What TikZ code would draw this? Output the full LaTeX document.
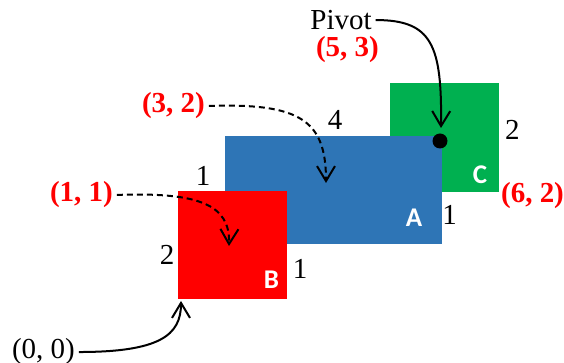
\documentclass[tikz,border=0pt]{standalone}
\usepackage{fontspec}
\setmainfont{Liberation Serif}
\newfontfamily\labfont{Carlito}
\usetikzlibrary{arrows.meta}
\definecolor{cred}{HTML}{FF0000}
\definecolor{cblue}{HTML}{2E75B6}
\definecolor{cgreen}{HTML}{00B050}
\begin{document}
\begin{tikzpicture}[x=0.5pt,y=-0.5pt,
  box/.style={inner sep=0pt,outer sep=0pt,draw=none,anchor=north west},
  txt/.style={anchor=base,inner sep=0.3pt,font=\fontsize{14.5pt}{17pt}\selectfont},
  coord/.style={txt,text=cred,font=\fontsize{14.5pt}{17pt}\selectfont\bfseries},
  letter/.style={anchor=base,inner sep=1pt,text=white,font=\fontsize{13.5pt}{16pt}\selectfont\labfont\bfseries},
  conn/.style={line width=1pt,shorten <=1.5pt,-{Straight Barb[length=7.5pt,width=9pt]}},
  dconn/.style={conn,dash pattern=on 3pt off 2pt}]
\useasboundingbox (0,0) rectangle (564,363);
% boxes
\node[box,fill=cgreen,minimum width=54.5pt,minimum height=54.5pt] (C) at (390,83) {};
\node[box,fill=cblue,minimum width=108.5pt,minimum height=54pt] (A) at (225,136) {};
\node[box,fill=cred,minimum width=54.5pt,minimum height=54pt] (B) at (178,191) {};
\node[circle,fill=black,minimum size=7.5pt,inner sep=0pt] (dot) at (440,141) {};
% letters
\node[letter] (lA) at (414,227) {A};
\node[letter] (lB) at (271.5,289) {B};
\node[letter] (lC) at (480,184) {C};
% dimension numbers
\node[txt] (n4) at (335,130) {4};
\node[txt] (n1a) at (203,186) {1};
\node[txt] (n1b) at (449.5,225) {1};
\node[txt] (n2a) at (167,265) {2};
\node[txt] (n1c) at (300,279) {1};
\node[txt] (n2b) at (512.5,140) {2};
% labels
\node[txt] (piv) at (341,29.5) {Pivot};
\node[coord] (p53) at (347.5,57) {(5, 3)};
\node[coord] (p32) at (173.5,113) {(3, 2)};
\node[coord] (p11) at (81.5,202) {(1, 1)};
\node[coord] (p62) at (532.5,203) {(6, 2)};
\node[txt] (p00) at (43.5,359) {(0, 0)};
% arrow ends
\coordinate (tP) at (441,128);
\coordinate (tA) at (326,183);
\coordinate (tB) at (229,246);
\coordinate (tO) at (181,301);
% connectors
\draw[conn] (piv.east) .. controls (432,20) and (442,45) .. (tP);
\draw[dconn] (p32.east) .. controls (300,103) and (326,120) .. (tA);
\draw[dconn] (p11.east) .. controls (200,192) and (230,205) .. (tB);
\draw[conn] (p00.east) .. controls (160,352) and (181,335) .. (tO);
\end{tikzpicture}
\end{document}
